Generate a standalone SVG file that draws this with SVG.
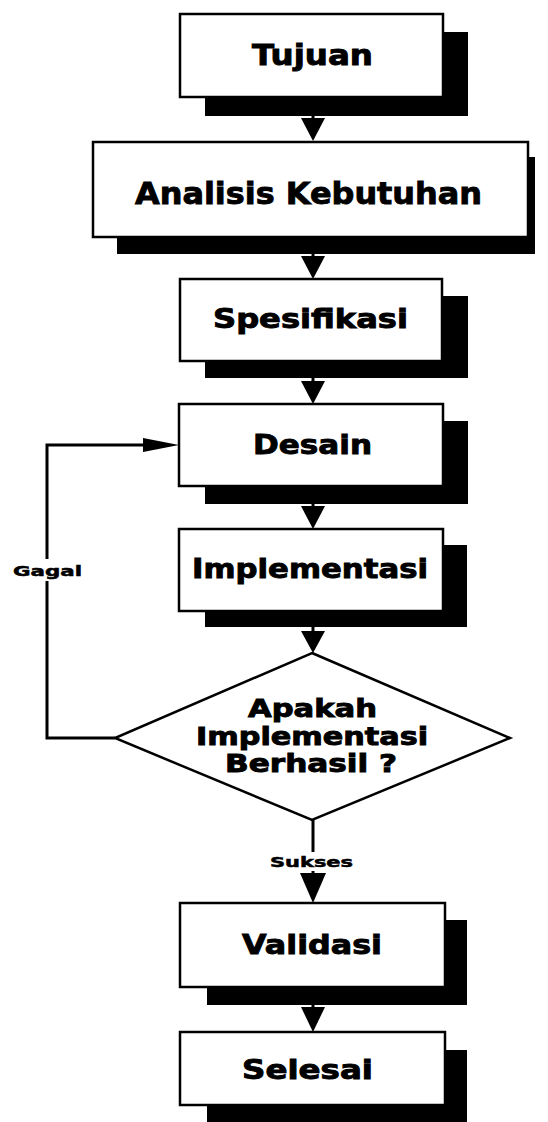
<svg xmlns="http://www.w3.org/2000/svg" width="548" height="1122" viewBox="0 0 548 1122">
<style>
.bg{fill:#ffffff}
.box{fill:#ffffff;stroke:#000000;stroke-width:2.5}
.shadow{fill:#000000}
.t{font-family:"DejaVu Sans","Liberation Sans",sans-serif;font-weight:bold;fill:#000000;stroke:#000000;stroke-width:0.9}
.lbl{font-family:"DejaVu Sans","Liberation Sans",sans-serif;font-weight:bold;fill:#000000;stroke:#000000;stroke-width:0.5;font-size:14px}
.line{fill:none;stroke:#000000;stroke-width:3}
.head{fill:#000000}
</style>
<rect class="bg" x="0" y="0" width="548" height="1122"/>
<g id="connectors">
  <line class="line" x1="313" y1="97" x2="313" y2="120"/>
  <polygon class="head" points="301,118 325,118 313,141"/>
  <line class="line" x1="313" y1="237" x2="313" y2="258"/>
  <polygon class="head" points="301,256 325,256 313,279"/>
  <line class="line" x1="313" y1="361" x2="313" y2="383"/>
  <polygon class="head" points="301,381 325,381 313,404"/>
  <line class="line" x1="313" y1="486" x2="313" y2="508"/>
  <polygon class="head" points="301,506 325,506 313,529"/>
  <line class="line" x1="313" y1="611" x2="313" y2="633"/>
  <polygon class="head" points="301,631 325,631 313,653"/>
  <line class="line" x1="313" y1="820" x2="313" y2="876"/>
  <polygon class="head" points="300,873 326,873 313,903"/>
  <line class="line" x1="313" y1="987" x2="313" y2="1009"/>
  <polygon class="head" points="301,1007 325,1007 313,1032"/>
  <polyline class="line" points="115,738 47,738 47,445 146,445"/>
  <polygon class="head" points="143,438 179,445 143,452"/>
  <rect class="bg" x="10" y="559" width="76" height="22"/>
  <text class="lbl" x="13" y="576" textLength="69" lengthAdjust="spacingAndGlyphs">Gagal</text>
  <rect class="bg" x="266" y="852" width="92" height="19"/>
  <text class="lbl" x="270" y="867" textLength="83" lengthAdjust="spacingAndGlyphs">Sukses</text>
</g>
<g id="tujuan">
  <rect class="shadow" x="205" y="32" width="263" height="84"/>
  <rect class="box" x="180" y="14" width="263" height="83"/>
  <text class="t" x="252" y="65" font-size="29" textLength="121" lengthAdjust="spacingAndGlyphs">Tujuan</text>
</g>
<g id="analisis">
  <rect class="shadow" x="117" y="157" width="418" height="97"/>
  <rect class="box" x="93" y="142" width="435" height="95"/>
  <text class="t" x="135" y="204" font-size="31" textLength="347" lengthAdjust="spacingAndGlyphs">Analisis Kebutuhan</text>
</g>
<g id="spesifikasi">
  <rect class="shadow" x="205" y="296" width="263" height="82"/>
  <rect class="box" x="180" y="279" width="262" height="82"/>
  <text class="t" x="213" y="328" font-size="27" textLength="195" lengthAdjust="spacingAndGlyphs">Spesifikasi</text>
</g>
<g id="desain">
  <rect class="shadow" x="205" y="421" width="263" height="83"/>
  <rect class="box" x="179" y="404" width="264" height="82"/>
  <text class="t" x="253" y="454" font-size="27" textLength="119" lengthAdjust="spacingAndGlyphs">Desain</text>
</g>
<g id="implementasi">
  <rect class="shadow" x="205" y="545" width="262" height="82"/>
  <rect class="box" x="179" y="529" width="264" height="82"/>
  <text class="t" x="192" y="578" font-size="27" textLength="236" lengthAdjust="spacingAndGlyphs">Implementasi</text>
</g>
<g id="keputusan">
  <polygon class="box" stroke-width="3" points="312,653 510,738 312,820 115,738"/>
  <text class="t" x="248" y="717" font-size="24" textLength="129" lengthAdjust="spacingAndGlyphs">Apakah</text>
  <text class="t" x="196" y="745" font-size="24" textLength="232" lengthAdjust="spacingAndGlyphs">Implementasi</text>
  <text class="t" x="225" y="772" font-size="24" textLength="172" lengthAdjust="spacingAndGlyphs">Berhasil ?</text>
</g>
<g id="validasi">
  <rect class="shadow" x="207" y="920" width="260" height="85"/>
  <rect class="box" x="180" y="903" width="265" height="84"/>
  <text class="t" x="242" y="954" font-size="27" textLength="140" lengthAdjust="spacingAndGlyphs">Validasi</text>
</g>
<g id="selesai">
  <rect class="shadow" x="207" y="1050" width="260" height="72"/>
  <rect class="box" x="180" y="1032" width="265" height="73"/>
  <text class="t" x="242" y="1079" font-size="27" textLength="131" lengthAdjust="spacingAndGlyphs">Selesai</text>
</g>
</svg>
